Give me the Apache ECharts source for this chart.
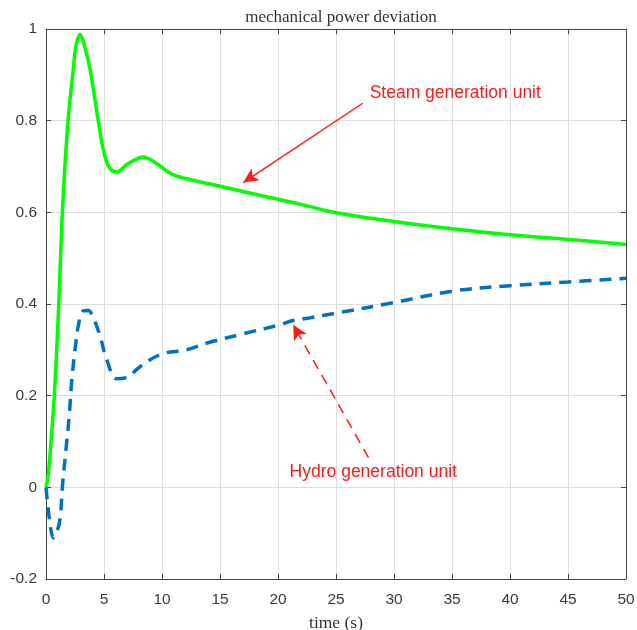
<!DOCTYPE html>
<html>
<head>
<meta charset="utf-8">
<script src="https://cdn.jsdelivr.net/npm/echarts@6/dist/echarts.min.js"></script>
<style>
  html, body { margin: 0; padding: 0; background: #fff; }
  #chart { width: 637px; height: 630px; }
</style>
</head>
<body>
<div id="chart"></div>
<script>
// values
const steamTime = [0, 0.2, 0.43, 0.72, 1.1, 1.45, 1.9, 2.35, 2.6, 2.93, 3.3, 3.8, 4.5, 5.0, 5.5, 6.1, 7.0, 8.4, 9.5, 10.9, 12.7, 15, 19, 21.9, 25, 30, 35, 40, 45, 50]
const steamPower = [0, 0.03, 0.1, 0.2, 0.4, 0.62, 0.8, 0.912, 0.965, 0.988, 0.965, 0.912, 0.8, 0.73, 0.696, 0.688, 0.705, 0.721, 0.707, 0.683, 0.67, 0.657, 0.634, 0.618, 0.599, 0.58, 0.564, 0.551, 0.541, 0.53]

const hydroTime = [0, 0.3, 0.63, 1.15, 1.44, 1.72, 2.0, 2.2, 2.5, 2.78, 3.16, 3.65, 4.08, 4.66, 5.23, 6.09, 7.1, 7.8, 8.7, 10.1, 12.1, 13.9, 17, 20.2, 21.3, 22.8, 25, 30, 35, 40, 45, 50]
const hydroPower = [0, -0.07, -0.11, -0.078, 0.01, 0.082, 0.155, 0.228, 0.3, 0.352, 0.384, 0.386, 0.37, 0.33, 0.279, 0.237, 0.241, 0.257, 0.274, 0.292, 0.3, 0.315, 0.335, 0.355, 0.364, 0.37, 0.38, 0.403, 0.428, 0.44, 0.448, 0.456]

const xTicks = { min: 0, max: 50, interval: 5 }
const yTicks = { min: -0.2, max: 1, interval: 0.2 }

const pairs = (xs, ys) => xs.map((x, i) => [x, ys[i]])

const chart = echarts.init(document.getElementById('chart'))

const axisLine = { show: true, onZero: false, lineStyle: { color: '#444', width: 1 } }
const inTicks = { show: true, inside: true, length: 5, lineStyle: { color: '#444' } }
const grid = { show: true, lineStyle: { color: '#dedede', width: 1 } }
const sans = 'Liberation Sans, Arial, sans-serif'
const serif = 'Liberation Serif, Times New Roman, serif'
const tickFont = { color: '#3a3a3a', fontSize: 15.5, fontFamily: sans }
const noteFont = { color: '#ff1a1a', fontSize: 17.5, fontFamily: sans }

chart.setOption({
  animation: false,
  title: {
    text: 'mechanical power deviation',
    left: 336,
    top: 4,
    textAlign: 'center',
    textStyle: { fontFamily: serif, fontWeight: 'normal', fontSize: 17, color: '#333' }
  },
  grid: { left: 46, right: 11, top: 29, bottom: 51, containLabel: false, outerBoundsMode: 'none' },
  xAxis: [
    {
      type: 'value', ...xTicks,
      name: 'time (s)', nameLocation: 'middle', nameGap: 35,
      nameTextStyle: { fontFamily: serif, fontSize: 17.5, color: '#333' },
      axisLine, axisTick: inTicks, splitLine: grid,
      axisLabel: { ...tickFont, margin: 13 }
    },
    {
      type: 'value', ...xTicks, position: 'top',
      axisLine, axisTick: inTicks, splitLine: { show: false }, axisLabel: { show: false }
    }
  ],
  yAxis: [
    {
      type: 'value', ...yTicks,
      axisLine, axisTick: inTicks, splitLine: grid,
      axisLabel: { ...tickFont, margin: 9 }
    },
    {
      type: 'value', ...yTicks, position: 'right',
      axisLine, axisTick: inTicks, splitLine: { show: false }, axisLabel: { show: false }
    }
  ],
  series: [
    {
      name: 'Steam generation unit',
      type: 'line',
      data: pairs(steamTime, steamPower),
      smooth: 0.35,
      showSymbol: false,
      lineStyle: { color: '#00ff00', width: 3.5 },
      z: 3,
      markLine: {
        silent: true,
        symbol: ['none', 'arrow'],
        symbolSize: [11, 15],
        label: { show: false },
        lineStyle: { color: '#ff1a1a', width: 1.5, type: 'solid' },
        data: [[{ coord: [27.3, 0.838] }, { coord: [17.0, 0.665] }]]
      },
      markPoint: {
        silent: true,
        symbolSize: 0,
        data: [{
          coord: [27.9, 0.86],
          label: { show: true, position: 'right', distance: 0, formatter: 'Steam generation unit', ...noteFont }
        }]
      }
    },
    {
      name: 'Hydro generation unit',
      type: 'line',
      data: pairs(hydroTime, hydroPower),
      smooth: 0.35,
      showSymbol: false,
      lineStyle: { color: '#0072bd', width: 3.5, type: [12, 8] },
      z: 3,
      markLine: {
        silent: true,
        symbol: ['none', 'arrow'],
        symbolSize: [11, 15],
        label: { show: false },
        lineStyle: { color: '#ff1a1a', width: 1.5, type: [10, 7] },
        data: [[{ coord: [27.8, 0.065] }, { coord: [21.3, 0.355] }]]
      },
      markPoint: {
        silent: true,
        symbolSize: 0,
        data: [{
          coord: [21.0, 0.034],
          label: { show: true, position: 'right', distance: 0, formatter: 'Hydro generation unit', ...noteFont }
        }]
      }
    }
  ]
})
</script>
</body>
</html>
